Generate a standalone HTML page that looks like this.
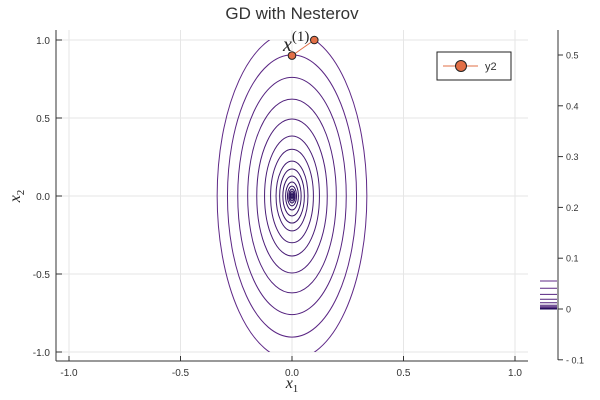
<!DOCTYPE html>
<html><head><meta charset="utf-8"><style>
body{margin:0;background:#fff}
svg{display:block;font-family:"Liberation Sans",sans-serif}
</style></head><body>
<svg id="c" width="600" height="400" viewBox="0 0 600 400">
<defs><clipPath id="dom"><rect x="0" y="40" width="600" height="312"/></clipPath></defs>
<text x="292" y="19" text-anchor="middle" font-size="17" fill="#333">GD with Nesterov</text>
<g id="grid"></g>
<g id="contours" clip-path="url(#dom)"></g>
<g id="axes"></g>
<g id="path"></g>
<text x="283" y="51" font-size="20" font-family="Liberation Serif,serif" font-style="italic" fill="#222">x<tspan font-style="normal" font-size="15" dy="-10">(1)</tspan></text>
<text x="292" y="388" font-size="16" font-family="Liberation Serif,serif" font-style="italic" fill="#222" text-anchor="middle">x<tspan font-size="11" dy="4" font-style="normal">1</tspan></text>
<text transform="translate(20,196) rotate(-90)" font-size="16" font-family="Liberation Serif,serif" font-style="italic" fill="#222" text-anchor="middle">x<tspan font-size="11" dy="4" font-style="normal">2</tspan></text>
<g>
<rect x="437" y="52" width="74" height="28" fill="#fff" stroke="#222" stroke-width="1"/>
<line x1="443" y1="66" x2="478" y2="66" stroke="#e26f46" stroke-width="1"/>
<circle cx="461" cy="66" r="5.5" fill="#e26f46" stroke="#222" stroke-width="1"/>
<text x="485" y="70" font-size="11" fill="#333">y2</text>
</g>
<g id="cbar"></g>
</svg>
<script>
const xTicks=[-1.0,-0.5,0.0,0.5,1.0];
const yTicks=[-1.0,-0.5,0.0,0.5,1.0];
const cbTicks=[-0.1,0,0.1,0.2,0.3,0.4,0.5];
const cbLabels=["- 0.1","0","0.1","0.2","0.3","0.4","0.5"];
const levels=[0.055,0.0409,0.0289,0.0193,0.0122,0.0074,0.0045,0.0025,0.0015,0.00082,0.0004,0.0002,0.0001,0.00005,0.00002,0.000005];
const iterX=[0.0,0.1];
const iterY=[0.9,1.0];
const ratio=0.32, scaleK=0.05;
const X=v=>292+v*223, Y=v=>196-v*156, CB=v=>309-v*508;
const NS="http://www.w3.org/2000/svg";
function mk(tag,attrs,parent){const e=document.createElementNS(NS,tag);for(const k in attrs)e.setAttribute(k,attrs[k]);parent.appendChild(e);return e;}
const grid=document.getElementById('grid'),axes=document.getElementById('axes');
xTicks.forEach(t=>{
 const g=mk('line',{x1:X(t),x2:X(t),y1:30,y2:361,stroke:'#e6e6e6','stroke-width':1},grid);
 
 
 mk('line',{x1:X(t),x2:X(t),y1:361,y2:356,stroke:'#333'},axes);
 const l=mk('text',{x:X(t),y:376,'text-anchor':'middle','font-size':10,fill:'#333'},axes);
 l.textContent=t.toFixed(1);
 
 
});
yTicks.forEach(t=>{
 const g=mk('line',{x1:56,x2:528,y1:Y(t),y2:Y(t),stroke:'#e6e6e6','stroke-width':1},grid);
 
 
 mk('line',{x1:56,x2:62,y1:Y(t),y2:Y(t),stroke:'#333'},axes);
 const l=mk('text',{x:50,y:Y(t)+4,'text-anchor':'end','font-size':10,fill:'#333'},axes);
 l.textContent=t.toFixed(1);
 
 
});
mk('line',{x1:56,x2:56,y1:30,y2:361,stroke:'#333'},axes);
mk('line',{x1:56,x2:528,y1:361,y2:361,stroke:'#333'},axes);
function col(i,n){const t=i/(n-1);const r=Math.round(95-65*t),g=Math.round(40-32*t),b=Math.round(135-50*t);return `rgb(${r},${g},${b})`;}
const cg=document.getElementById('contours');
levels.forEach((lv,i)=>{
 const b=Math.sqrt(lv/scaleK),a=b*ratio;
 const e=mk('ellipse',{cx:X(0),cy:Y(0),rx:a*223,ry:b*156,fill:'none',stroke:col(i,levels.length),'stroke-width':1},cg);
 
 
});
const pg=document.getElementById('path');
mk('polyline',{points:iterX.map((x,i)=>X(x)+','+Y(iterY[i])).join(' '),fill:'none',stroke:'#e26f46','stroke-width':1},pg);
iterX.forEach((x,i)=>{
 const c=mk('circle',{cx:X(x),cy:Y(iterY[i]),r:3.8,fill:'#e26f46',stroke:'#222','stroke-width':1},pg);
 
 
});
const cb=document.getElementById('cbar');
mk('line',{x1:558,x2:558,y1:30,y2:360,stroke:'#333'},cb);
cbTicks.forEach((t,i)=>{
 mk('line',{x1:558,x2:563,y1:CB(t),y2:CB(t),stroke:'#333'},cb);
 const l=mk('text',{x:566,y:CB(t)+3.5,'font-size':9,fill:'#333'},cb);
 l.textContent=cbLabels[i];
 
 
});
levels.forEach((lv,i)=>{
 const l=mk('line',{x1:540,x2:557,y1:CB(lv),y2:CB(lv),stroke:col(i,levels.length),'stroke-width':1},cb);
 
 
});
</script>
</body></html>
